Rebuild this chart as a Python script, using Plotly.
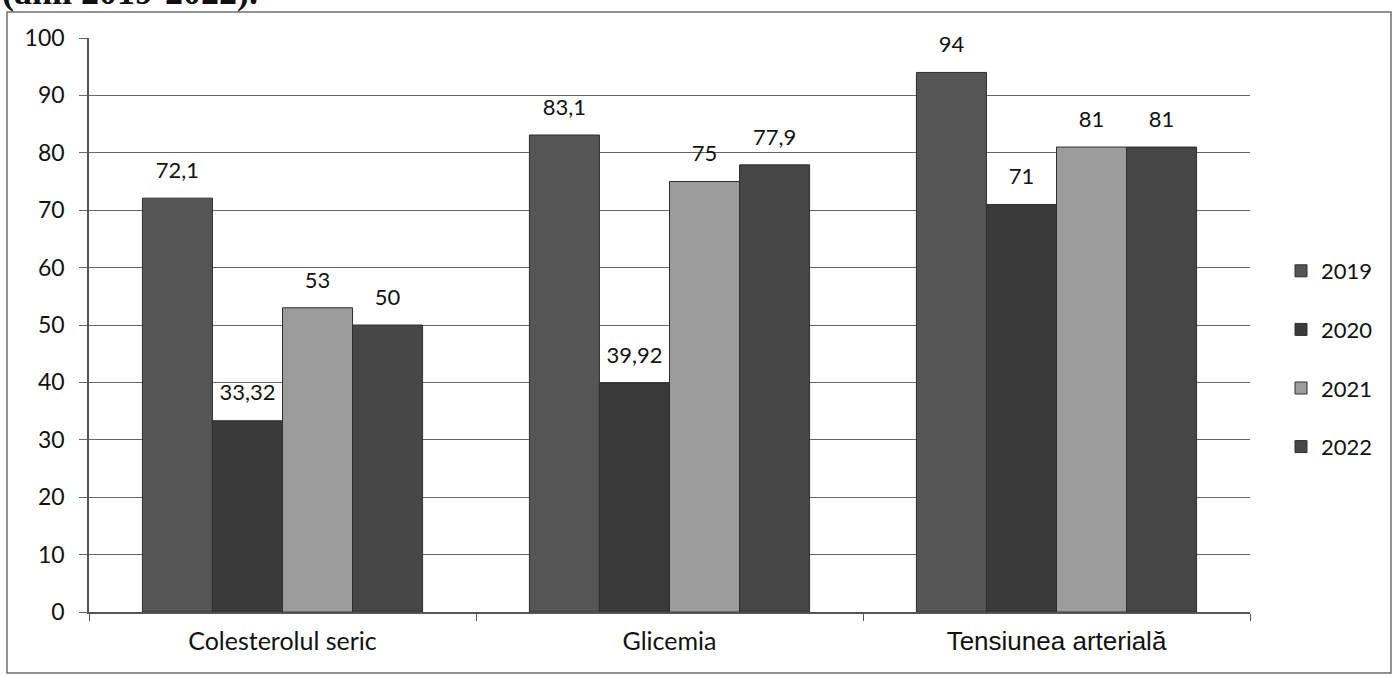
import plotly.graph_objects as go

categories = ["Colesterolul seric", "Glicemia", "Tensiunea arterială"]
years = ["2019", "2020", "2021", "2022"]
values = {
    "2019": [72.1, 83.1, 94],
    "2020": [33.32, 39.92, 71],
    "2021": [53, 75, 81],
    "2022": [50, 77.9, 81],
}
labels = {
    "2019": ["72,1", "83,1", "94"],
    "2020": ["33,32", "39,92", "71"],
    "2021": ["53", "75", "81"],
    "2022": ["50", "77,9", "81"],
}
colors = {"2019": "#555555", "2020": "#3a3a3a", "2021": "#9c9c9c", "2022": "#464646"}
tick_text = ["Colesterolul seric", "Glicemia",
             "<span style='font-family:Liberation Sans, Arial; font-size:26px'>Tensiunea arterială</span>"]
yticks = list(range(0, 101, 10))

W, H = 1393, 677
L, R, T, B = 89, 143, 38, 65
pw, ph = W - L - R, H - T - B

def px_x(p):
    return (p - L) / pw

def px_y(p):
    return (H - B - p) / ph

FONT = "Lato, 'Open Sans', sans-serif"
GAP = 0.276

fig = go.Figure()
for i, y in enumerate(years):
    fig.add_trace(go.Bar(
        x=categories, y=values[y], name=y,
        marker=dict(color=colors[y], line=dict(color="#2e2e2e", width=1)),
        offsetgroup=str(i), legendgroup=y,
    ))
for i, y in enumerate(years):
    fig.add_trace(go.Scatter(
        x=categories, y=values[y], text=labels[y], mode="markers+text",
        textposition="top center",
        marker=dict(size=22, opacity=0),
        textfont=dict(family=FONT, size=22, color="#111111"),
        offsetgroup=str(i), showlegend=False, hoverinfo="skip", cliponaxis=False,
    ))

fig.update_layout(
    width=W, height=H,
    margin=dict(l=L, r=R, t=T, b=B),
    paper_bgcolor="white", plot_bgcolor="white",
    barmode="group", bargap=GAP, bargroupgap=0,
    scattermode="group", scattergap=GAP,
    font=dict(family=FONT, size=22, color="#111111"),
    legend=dict(
        x=px_x(1281), xanchor="left", y=px_y(359), yanchor="middle",
        font=dict(family=FONT, size=22, color="#111111"),
        tracegroupgap=27, traceorder="grouped",
        bgcolor="rgba(0,0,0,0)",
    ),
    showlegend=True,
    xaxis=dict(
        type="category", tickmode="array", tickvals=categories, ticktext=tick_text,
        showline=True, linecolor="#555555", linewidth=1.5,
        ticks="outside", tickson="boundaries", ticklen=7, tickcolor="#555555",
        showgrid=False, tickfont=dict(family=FONT, size=25, color="#111111"),
        ticklabelstandoff=6,
    ),
    yaxis=dict(
        range=[0, 100], tickvals=yticks, showgrid=True, gridcolor="#666666", gridwidth=1.2,
        showline=True, linecolor="#555555", linewidth=1.5,
        ticks="outside", ticklen=8, tickcolor="#666666",
        tickfont=dict(family=FONT, size=23, color="#111111"),
        ticklabelstandoff=10, zeroline=False,
    ),
    shapes=[dict(
        type="rect", xref="paper", yref="paper",
        x0=px_x(7), x1=px_x(1391), y0=px_y(673), y1=px_y(12),
        line=dict(color="#6e6e6e", width=1.5), layer="below",
    )],
    annotations=[dict(
        text="<b>(anii 2019-2022).</b>", xref="paper", yref="paper",
        x=px_x(0), y=px_y(14), xanchor="left", yanchor="bottom", showarrow=False,
        font=dict(family="Liberation Serif, serif", size=36, color="#111111"),
    )],
)

fig.write_html("out.html", config={"displayModeBar": False},
               post_script="document.body.style.margin='0';")
